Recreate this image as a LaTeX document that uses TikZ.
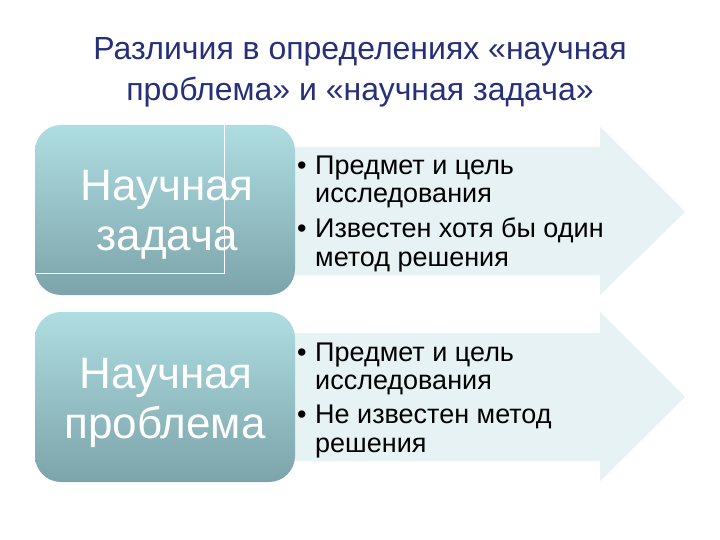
\documentclass[tikz,border=0pt]{standalone}
\usepackage{fontspec}
\setmainfont{Liberation Sans}
\definecolor{titlecol}{RGB}{38,48,122}
\definecolor{boxtop}{RGB}{174,221,226}
\definecolor{boxbot}{RGB}{124,164,170}
\definecolor{arrowfill}{RGB}{230,242,244}
\tikzset{
  x=1pt, y=-1pt,
  titletext/.style={font=\fontsize{32}{42}\selectfont, text=titlecol, inner sep=0pt},
  catbox/.style={rounded corners=26pt, top color=boxtop, bottom color=boxbot, draw=none, minimum width=260pt, minimum height=170pt, inner sep=0pt},
  boxtext/.style={font=\fontsize{44}{50}\selectfont, text=white, inner sep=0pt},
  arrowshape/.style={fill=arrowfill, draw=none},
  bullettext/.style={font=\fontsize{27}{28}\selectfont, text=black, inner sep=0pt},
  thinline/.style={draw=white, line width=0.8pt}
}
\begin{document}
\begin{tikzpicture}
\useasboundingbox (0,0) rectangle (720,540);
\fill[white] (0,0) rectangle (720,540);
% title
\node[titletext, anchor=base] (title1) at (360,60) {Различия в определениях «научная};
\node[titletext, anchor=base] (title2) at (360,101) {проблема» и «научная задача»};
% arrows
\path[arrowshape] (250,147) -- (600,147) -- (600,127) -- (685,212) -- (600,295) -- (600,275) -- (250,275) -- cycle;
\path[arrowshape] (250,333) -- (600,333) -- (600,312) -- (685,397) -- (600,481) -- (600,461) -- (250,461) -- cycle;
% boxes
\node[catbox] (box1) at (165,210) {};
\node[catbox] (box2) at (165,397) {};
\draw[thinline] (224,125) -- (224,273) -- (36,273);
% box texts
\node[boxtext, anchor=base] (b1a) at (167,201) {Научная};
\node[boxtext, anchor=base] (b1b) at (167,251) {задача};
\node[boxtext, anchor=base] (b2a) at (166,388) {Научная};
\node[boxtext, anchor=base] (b2b) at (165,438) {проблема};
% bullets arrow 1
\node[bullettext, anchor=base west] (d1) at (297,175) {•};
\node[bullettext, anchor=base west] (l1) at (315,175) {Предмет и цель};
\node[bullettext, anchor=base west] (l2) at (315,203) {исследования};
\node[bullettext, anchor=base west] (d2) at (297,237) {•};
\node[bullettext, anchor=base west] (l3) at (315,237) {Известен хотя бы один};
\node[bullettext, anchor=base west] (l4) at (315,266) {метод решения};
% bullets arrow 2
\node[bullettext, anchor=base west] (d3) at (297,361) {•};
\node[bullettext, anchor=base west] (m1) at (315,361) {Предмет и цель};
\node[bullettext, anchor=base west] (m2) at (315,389) {исследования};
\node[bullettext, anchor=base west] (d4) at (297,423) {•};
\node[bullettext, anchor=base west] (m3) at (315,423) {Не известен метод};
\node[bullettext, anchor=base west] (m4) at (315,452) {решения};
\end{tikzpicture}
\end{document}
